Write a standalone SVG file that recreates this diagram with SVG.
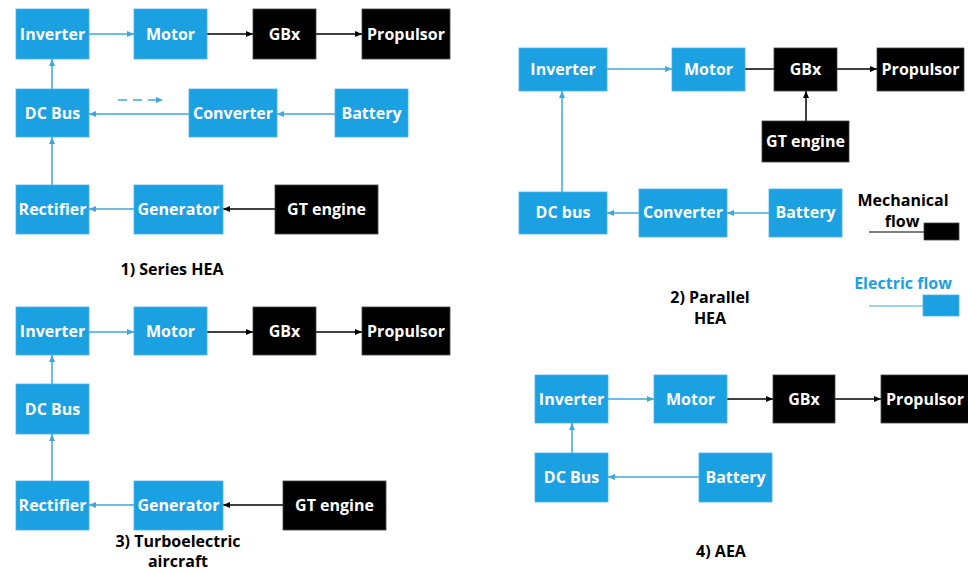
<svg xmlns="http://www.w3.org/2000/svg" width="968" height="572" viewBox="0 0 968 572">
<style>
.b{fill:#1ba1e2;stroke:#4db3e6;stroke-width:0.8}
.k{fill:#000;stroke:#444;stroke-width:0.8}
.t{font-family:"Open Sans","Noto Sans",sans-serif;font-weight:bold;font-size:16px;fill:#fff;text-anchor:middle}
.l{font-family:"Open Sans","Noto Sans",sans-serif;font-weight:bold;font-size:16px;fill:#000;text-anchor:middle}
.e{stroke:#3fa7dc;stroke-width:1.5;fill:none}
.m{stroke:#000;stroke-width:1.5;fill:none}
</style>
<defs>
<marker id="ab" markerUnits="userSpaceOnUse" markerWidth="7" markerHeight="7" refX="7" refY="3.5" orient="auto"><path d="M0,0.5 L7,3.5 L0,6.5 z" fill="#3fa7dc"/></marker>
<marker id="ak" markerUnits="userSpaceOnUse" markerWidth="7" markerHeight="7" refX="7" refY="3.5" orient="auto"><path d="M0,0.5 L7,3.5 L0,6.5 z" fill="#000"/></marker>
</defs>
<rect width="968" height="572" fill="#fff"/>

<g id="connectors">
<!-- 1) Series -->
<line class="e" x1="89" y1="34" x2="134" y2="34" marker-end="url(#ab)"/>
<line class="m" x1="207" y1="34" x2="253" y2="34" marker-end="url(#ak)"/>
<line class="m" x1="316" y1="34" x2="362" y2="34" marker-end="url(#ak)"/>
<line class="e" x1="52" y1="89" x2="52" y2="59" marker-end="url(#ab)"/>
<line class="e" x1="189" y1="114" x2="89" y2="114" marker-end="url(#ab)"/>
<line class="e" x1="335" y1="114" x2="277" y2="114" marker-end="url(#ab)"/>
<line class="e" x1="118" y1="100" x2="163" y2="100" stroke-dasharray="9,6" marker-end="url(#ab)"/>
<line class="e" x1="52" y1="185" x2="52" y2="137" marker-end="url(#ab)"/>
<line class="e" x1="134" y1="209" x2="89" y2="209" marker-end="url(#ab)"/>
<line class="m" x1="275" y1="209" x2="223" y2="209" marker-end="url(#ak)"/>
<!-- 2) Parallel -->
<line class="e" x1="607" y1="69" x2="672" y2="69" marker-end="url(#ab)"/>
<line class="m" x1="745" y1="69" x2="774" y2="69"/>
<line class="m" x1="837" y1="69" x2="877" y2="69" marker-end="url(#ak)"/>
<line class="m" x1="806" y1="121" x2="806" y2="91" marker-end="url(#ak)"/>
<line class="e" x1="562" y1="192" x2="562" y2="91" marker-end="url(#ab)"/>
<line class="e" x1="639" y1="213" x2="607" y2="213" marker-end="url(#ab)"/>
<line class="e" x1="769" y1="213" x2="727" y2="213" marker-end="url(#ab)"/>
<!-- 3) Turboelectric -->
<line class="e" x1="89" y1="332" x2="134" y2="332" marker-end="url(#ab)"/>
<line class="m" x1="207" y1="332" x2="253" y2="332" marker-end="url(#ak)"/>
<line class="m" x1="316" y1="332" x2="362" y2="332" marker-end="url(#ak)"/>
<line class="e" x1="52" y1="384" x2="52" y2="355" marker-end="url(#ab)"/>
<line class="e" x1="52" y1="481" x2="52" y2="434" marker-end="url(#ab)"/>
<line class="e" x1="134" y1="505" x2="89" y2="505" marker-end="url(#ab)"/>
<line class="m" x1="283" y1="505" x2="223" y2="505" marker-end="url(#ak)"/>
<!-- 4) AEA -->
<line class="e" x1="608" y1="399" x2="654" y2="399" marker-end="url(#ab)"/>
<line class="m" x1="727" y1="399" x2="773" y2="399" marker-end="url(#ak)"/>
<line class="m" x1="835" y1="399" x2="881" y2="399" marker-end="url(#ak)"/>
<line class="e" x1="572" y1="453" x2="572" y2="423" marker-end="url(#ab)"/>
<line class="e" x1="699" y1="477" x2="608" y2="477" marker-end="url(#ab)"/>
</g>

<!-- 1) Series HEA -->
<g id="s1-inverter"><rect class="b" x="16" y="9" width="73" height="50"/><text class="t" x="52.5" y="40">Inverter</text></g>
<g id="s1-motor"><rect class="b" x="134" y="9" width="73" height="50"/><text class="t" x="170.5" y="40">Motor</text></g>
<g id="s1-gbx"><rect class="k" x="253" y="9" width="63" height="50"/><text class="t" x="284.5" y="40">GBx</text></g>
<g id="s1-propulsor"><rect class="k" x="362" y="9" width="88" height="50"/><text class="t" x="406" y="40">Propulsor</text></g>
<g id="s1-dcbus"><rect class="b" x="16" y="89" width="73" height="48"/><text class="t" x="52.5" y="119">DC Bus</text></g>
<g id="s1-converter"><rect class="b" x="189" y="89" width="88" height="48"/><text class="t" x="233" y="119">Converter</text></g>
<g id="s1-battery"><rect class="b" x="335" y="89" width="73" height="48"/><text class="t" x="371.5" y="119">Battery</text></g>
<g id="s1-rectifier"><rect class="b" x="16" y="185" width="73" height="49"/><text class="t" x="52.5" y="215">Rectifier</text></g>
<g id="s1-generator"><rect class="b" x="134" y="185" width="89" height="49"/><text class="t" x="178.5" y="215">Generator</text></g>
<g id="s1-gt"><rect class="k" x="275" y="185" width="103" height="49"/><text class="t" x="326.5" y="215">GT engine</text></g>
<g id="s1-label"><text class="l" x="172" y="275">1) Series HEA</text></g>

<!-- 2) Parallel HEA -->
<g id="s2-inverter"><rect class="b" x="519" y="48" width="88" height="43"/><text class="t" x="563" y="75">Inverter</text></g>
<g id="s2-motor"><rect class="b" x="672" y="48" width="73" height="43"/><text class="t" x="708.5" y="75">Motor</text></g>
<g id="s2-gbx"><rect class="k" x="774" y="48" width="63" height="43"/><text class="t" x="805.5" y="75">GBx</text></g>
<g id="s2-propulsor"><rect class="k" x="877" y="48" width="87" height="43"/><text class="t" x="920.5" y="75">Propulsor</text></g>
<g id="s2-gt"><rect class="k" x="762" y="121" width="87" height="41"/><text class="t" x="805.5" y="147">GT engine</text></g>
<g id="s2-dcbus"><rect class="b" x="519" y="192" width="88" height="42"/><text class="t" x="563" y="218">DC bus</text></g>
<g id="s2-converter"><rect class="b" x="639" y="189" width="88" height="48"/><text class="t" x="683" y="218">Converter</text></g>
<g id="s2-battery"><rect class="b" x="769" y="189" width="73" height="48"/><text class="t" x="805.5" y="218">Battery</text></g>
<g id="s2-label"><text class="l" x="710" y="303">2) Parallel</text><text class="l" x="710" y="324">HEA</text></g>

<!-- Legend -->
<g id="legend-mechanical">
<text class="l" x="903" y="206">Mechanical</text>
<text class="l" x="902" y="227">flow</text>
<line x1="869" y1="232" x2="924" y2="232" stroke="#555" stroke-width="1.5"/>
<rect class="k" x="924" y="223" width="35" height="17"/>
</g>
<g id="legend-electric">
<text class="l" x="903" y="289" style="fill:#1ba1e2">Electric flow</text>
<line x1="869" y1="306" x2="923" y2="306" stroke="#7cc3ea" stroke-width="1.5"/>
<rect class="b" x="923" y="295" width="36" height="21"/>
</g>

<!-- 3) Turboelectric -->
<g id="s3-inverter"><rect class="b" x="16" y="307" width="73" height="48"/><text class="t" x="52.5" y="337">Inverter</text></g>
<g id="s3-motor"><rect class="b" x="134" y="307" width="73" height="48"/><text class="t" x="170.5" y="337">Motor</text></g>
<g id="s3-gbx"><rect class="k" x="253" y="307" width="63" height="48"/><text class="t" x="284.5" y="337">GBx</text></g>
<g id="s3-propulsor"><rect class="k" x="362" y="307" width="88" height="48"/><text class="t" x="406" y="337">Propulsor</text></g>
<g id="s3-dcbus"><rect class="b" x="16" y="384" width="73" height="50"/><text class="t" x="52.5" y="415">DC Bus</text></g>
<g id="s3-rectifier"><rect class="b" x="16" y="481" width="73" height="49"/><text class="t" x="52.5" y="511">Rectifier</text></g>
<g id="s3-generator"><rect class="b" x="134" y="481" width="89" height="49"/><text class="t" x="178.5" y="511">Generator</text></g>
<g id="s3-gt"><rect class="k" x="283" y="481" width="103" height="49"/><text class="t" x="334.5" y="511">GT engine</text></g>
<g id="s3-label"><text class="l" x="178" y="547">3) Turboelectric</text><text class="l" x="178" y="567">aircraft</text></g>

<!-- 4) AEA -->
<g id="s4-inverter"><rect class="b" x="535" y="375" width="73" height="48"/><text class="t" x="571.5" y="405">Inverter</text></g>
<g id="s4-motor"><rect class="b" x="654" y="375" width="73" height="48"/><text class="t" x="690.5" y="405">Motor</text></g>
<g id="s4-gbx"><rect class="k" x="773" y="375" width="62" height="48"/><text class="t" x="804" y="405">GBx</text></g>
<g id="s4-propulsor"><rect class="k" x="881" y="375" width="88" height="48"/><text class="t" x="925" y="405">Propulsor</text></g>
<g id="s4-dcbus"><rect class="b" x="535" y="453" width="73" height="49"/><text class="t" x="571.5" y="483">DC Bus</text></g>
<g id="s4-battery"><rect class="b" x="699" y="453" width="73" height="49"/><text class="t" x="735.5" y="483">Battery</text></g>
<g id="s4-label"><text class="l" x="721" y="557">4) AEA</text></g>
</svg>
